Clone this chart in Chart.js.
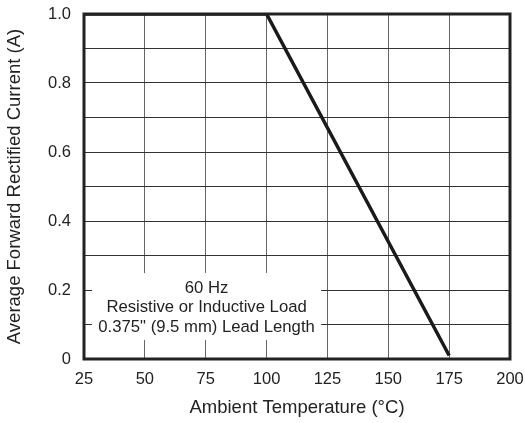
<!DOCTYPE html>
<html>
<head>
<meta charset="utf-8">
<script src="https://cdn.jsdelivr.net/npm/chart.js@4/dist/chart.umd.min.js"></script>
<style>
  html, body { margin: 0; padding: 0; background: #fff; }
  #wrap { width: 525px; height: 423px; }
</style>
</head>
<body>
<div id="wrap"><canvas id="derating"></canvas></div>
<script>
// derating curve
const temps = [25, 100, 175];
const current = [1.0, 1.0, 0.01];
const noteLines = ['60 Hz', 'Resistive or Inductive Load', '0.375" (9.5 mm) Lead Length'];

const FONT = '"Liberation Sans", Arial, sans-serif';

// white note box over the grid, lower left
const notePlugin = {
  id: 'note',
  beforeDatasetsDraw(chart) {
    const { ctx } = chart;
    const x = chart.scales.x, y = chart.scales.y;
    const left = x.getPixelForValue(28.3), right = x.getPixelForValue(122.4);
    const top = y.getPixelForValue(0.249), bottom = y.getPixelForValue(0.055);
    ctx.save();
    ctx.fillStyle = '#fff';
    ctx.fillRect(left, top, right - left, bottom - top);
    ctx.fillStyle = '#222';
    ctx.font = '16.7px ' + FONT;
    ctx.textAlign = 'center';
    ctx.textBaseline = 'middle';
    const cx = (left + right) / 2;
    noteLines.forEach((t, i) => ctx.fillText(t, cx, top + 15 + i * 19.5));
    ctx.restore();
  },
  afterDraw(chart) {
    const { ctx, chartArea: a } = chart;
    ctx.save();
    ctx.strokeStyle = '#222';
    ctx.lineWidth = 3;
    ctx.strokeRect(a.left, a.top, a.right - a.left, a.bottom - a.top);
    ctx.restore();
  }
};

new Chart(document.getElementById('derating'), {
  type: 'line',
  data: {
    datasets: [{
      data: temps.map((t, i) => ({ x: t, y: current[i] })),
      borderColor: '#1a1a1a',
      borderWidth: 3.5,
      pointRadius: 0,
      tension: 0
    }]
  },
  options: {
    responsive: true,
    maintainAspectRatio: false,
    animation: false,
    layout: { padding: { top: 14, right: 15, left: 0, bottom: 0 } },
    plugins: { legend: { display: false }, tooltip: { enabled: false } },
    scales: {
      x: {
        type: 'linear',
        min: 25, max: 200,
        ticks: { stepSize: 25, color: '#222', font: { family: FONT, size: 16.5 }, padding: 11 },
        grid: { color: '#666', lineWidth: 1, drawTicks: false },
        border: { display: false },
        title: { display: true, text: 'Ambient Temperature (°C)', color: '#222', font: { family: FONT, size: 18.5 }, padding: { top: 4 } },
        afterFit(s) { s.height = 64; s.paddingRight = 0; s.paddingLeft = 0; }
      },
      y: {
        min: 0, max: 1.0,
        ticks: {
          stepSize: 0.1, color: '#222', font: { family: FONT, size: 16.5 }, padding: 13,
          callback(v) {
            const r = Math.round(v * 10);
            if (r % 2) return '';
            return r === 0 ? '0' : (r / 10).toFixed(1);
          }
        },
        grid: { color: '#333', lineWidth: 1, drawTicks: false },
        border: { display: false },
        title: { display: true, text: 'Average Forward Rectified Current (A)', color: '#222', font: { family: FONT, size: 18.5 }, padding: { bottom: 2 } },
        afterFit(s) { s.width = 84; s.paddingTop = 0; s.paddingBottom = 0; }
      }
    }
  },
  plugins: [notePlugin]
});
</script>
</body>
</html>
